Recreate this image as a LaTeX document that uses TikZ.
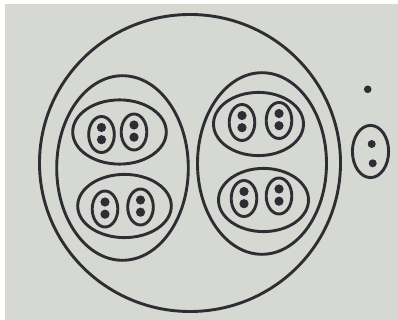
\documentclass[tikz,border=0pt]{standalone}
\usepackage{xcolor}
\definecolor{paper}{HTML}{D6D8D3}
\definecolor{ink}{HTML}{2E2D33}

\begin{document}
\begin{tikzpicture}[x=1pt,y=-1pt,
  ring/.style={draw=ink, line width=2.9pt},
  dot/.style={fill=ink}
]
\useasboundingbox (0,0) rectangle (398,320);
\fill[white] (0,0) rectangle (398,320);
\fill[paper] (5,4) rectangle (398,320);
% whole set
\draw[ring] (190,163) ellipse [x radius=150.5, y radius=148.5];
% two halves
\draw[ring] (122.5,168) ellipse [x radius=65.8, y radius=92.3];
\draw[ring] (262,163.5) ellipse [x radius=64.5, y radius=90.8];
% quarters
\draw[ring] (119.5,132) ellipse [x radius=46.8, y radius=32.1];
\draw[ring] (124.5,206) ellipse [x radius=46.8, y radius=31.6];
\draw[ring] (258.5,124) ellipse [x radius=45, y radius=31.6];
\draw[ring] (263.5,200) ellipse [x radius=45, y radius=31.6];
% pairs of points
\foreach \cx/\cy in {101.5/134.5, 134/132, 105/209, 140.5/207,
                     242/122.5, 279/120.5, 244/198.5, 279/196} {
  \draw[ring] (\cx,\cy) ellipse [x radius=12.8, y radius=18];
  \fill[dot] (\cx,\cy-7) circle [radius=4.6];
  \fill[dot] (\cx,\cy+5.2) circle [radius=4.6];
}
% outside
\fill[dot] (367.7,89.3) circle [radius=3.8];
\draw[ring] (370.5,151.5) ellipse [x radius=18.1, y radius=26.1];
\fill[dot] (371.7,144) circle [radius=4];
\fill[dot] (372.7,163.3) circle [radius=4];
\end{tikzpicture}
\end{document}
